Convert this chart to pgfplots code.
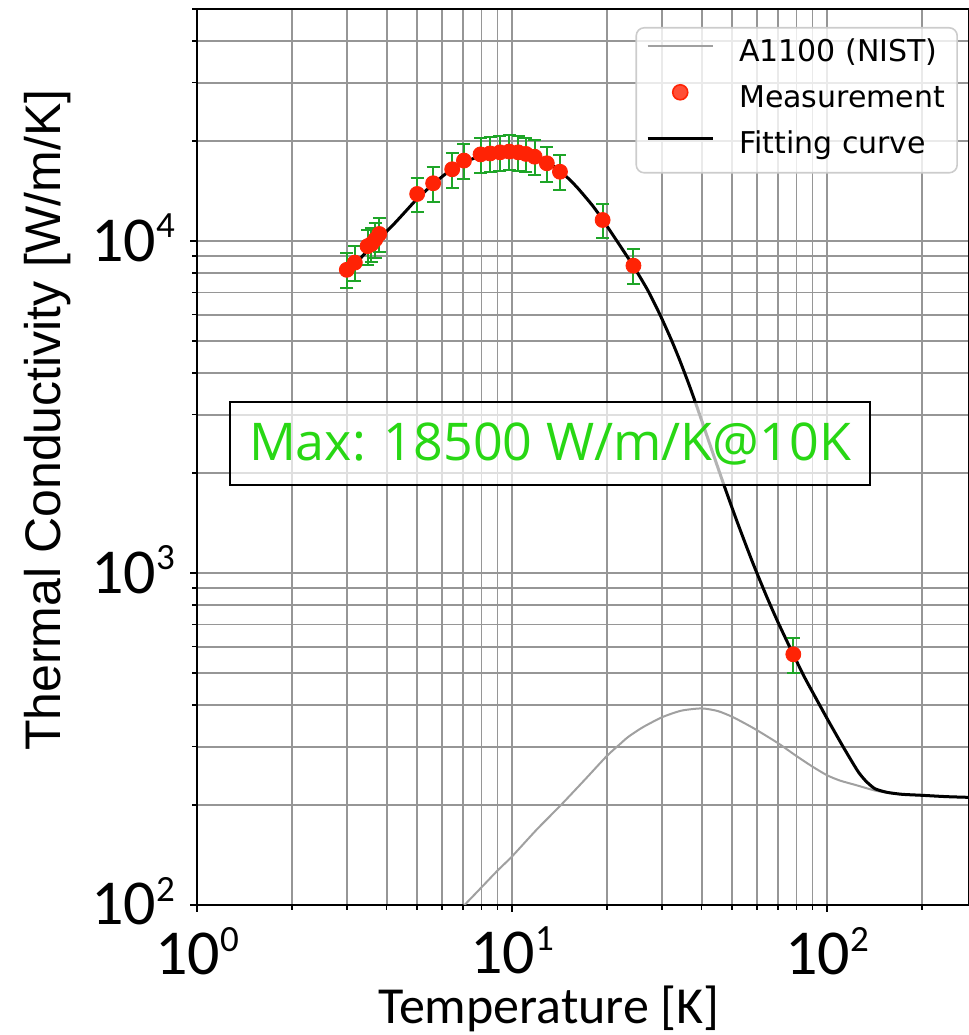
\documentclass[border=0pt]{standalone}
\usepackage{pgfplots}
\pgfplotsset{compat=1.18}
\usepackage{pgfplotstable}
\usetikzlibrary{calc}
\usepackage{fontspec}
\setmainfont{Liberation Sans}
\newfontfamily\carlito{Carlito}
\newfontfamily\opensans{Open Sans}
\newfontfamily\dejavu{DejaVu Sans}

\definecolor{nistgray}{RGB}{160,160,160}
\definecolor{measred}{RGB}{255,35,5}
\definecolor{errgreen}{RGB}{30,165,40}
\definecolor{anngreen}{RGB}{40,215,20}
\definecolor{gridgray}{RGB}{150,150,150}

\newcommand\tpow[1]{10\raisebox{0.36em}{\fontsize{18.5}{18.5}\selectfont #1}}

\pgfplotstableread{
T k
6.5 92
7.14 101
8 113
9 127
10 140
12 169
14.3 200
17 238
20 281
22 305
23.4 321
26 343
30 368
34.5 385
40 391
45 384
50 369
55 352
60 336
70 307
80 281
90 261
100 246
110 237
123 230
142.6 221
160 217
173 215.5
200 214
240 212
282 211
}\nist

\pgfplotstableread{
T k e
2.99 8190 0.12
3.17 8610 0.12
3.48 9650 0.12
3.58 9800 0.12
3.68 10100 0.12
3.79 10500 0.12
5.0 13860 0.12
5.62 14930 0.12
6.46 16450 0.12
7.04 17470 0.12
7.95 18240 0.12
8.52 18360 0.12
9.16 18500 0.12
9.8 18600 0.12
10.47 18500 0.12
11.07 18300 0.12
11.8 17950 0.12
12.9 17150 0.12
14.2 16170 0.12
19.4 11570 0.12
24.3 8430 0.12
78.2 569 0.12
}\meas

\pgfplotstableread{
T k
2.95 7950
3.0 8100
3.2 8600
3.5 9400
3.8 10200
4.2 11200
4.6 12300
5.0 13400
5.6 14800
6.3 16200
7.0 17200
8.0 18100
9.0 18500
10.0 18600
11.0 18400
12.0 17900
13.0 17200
14.2 16300
16.0 14600
18.0 12800
19.4 11600
22.0 9700
24.3 8400
27.0 7100
29.5 6000
32.0 5060
34.1 4370
36.5 3690
38.6 3180
42.0 2520
46.9 1861
51.7 1438
58.0 1079
64.4 848
70.0 709
78.0 571
85.0 484
92.7 416
100 365
106 331
112 302
119 274
126 251
133 236
142 224
155 218.5
173 215.5
200 214
240 212
282 211
}\fit

\begin{document}
\begin{tikzpicture}
\begin{axis}[
  name=ax,
  xmode=log, ymode=log,
  scale only axis,
  width=386pt, height=448pt,
  xmin=1, xmax=282.4,
  ymin=100, ymax=50000,
  xtick={1,10,100},
  xticklabels={\tpow{0},\tpow{1},\tpow{2}},
  ytick={100,1000,10000},
  yticklabels={\tpow{2},\tpow{3},\tpow{4}},
  minor xtick={2,3,4,5,6,7,8,9,20,30,40,50,60,70,80,90,200},
  minor ytick={200,300,400,500,600,700,800,900,2000,3000,4000,5000,6000,7000,8000,9000,20000,30000,40000,50000},
  tick pos=left,
  tick align=outside,
  major tick length=3.5pt,
  minor tick length=2.5pt,
  every tick/.style={black, line width=0.8pt},
  grid=both,
  major grid style={gridgray, line width=0.9pt},
  minor grid style={gridgray, line width=0.9pt},
  axis line style={black, line width=1pt},
  xticklabel style={font=\carlito\fontsize{32}{32}\selectfont, yshift=-4pt},
  yticklabel style={font=\carlito\fontsize{32}{32}\selectfont, anchor=base east, yshift=-10pt, xshift=-4pt},
  xlabel={Temperature [K]},
  ylabel={Thermal Conductivity [W/m/K]},
  xlabel style={font=\carlito\fontsize{26}{26}\selectfont, at={(axis description cs:0.456,-0.1325)}, anchor=base},
  ylabel style={font=\fontsize{25}{25}\selectfont, at={(axis description cs:-0.193,0.541)}, anchor=center, rotate=0},
  legend cell align=left,
  legend style={at={(1,1)}, anchor=north east, xshift=-5.5pt, yshift=-9pt,
    draw=black!20, line width=0.8pt, rounded corners=4pt,
    fill=white, fill opacity=0.8, text opacity=1,
    font=\dejavu\fontsize{15}{18}\selectfont,
    inner xsep=5pt, inner ysep=5pt, row sep=6.5pt,
    nodes={text height=11pt, text depth=3.5pt, inner sep=1pt},
    /tikz/every odd column/.append style={column sep=11.5pt}},
]
\addlegendimage{legend image code/.code={\path[draw=none,fill=none] (0pt,0pt) -- (32.5pt,0pt); \draw[nistgray, line width=1pt] (0pt,4pt) -- (32.5pt,4pt);}}
\addlegendentry{A1100 (NIST)}
\addlegendimage{legend image code/.code={\path[draw=none,fill=none] (0pt,0pt) -- (32.5pt,0pt); \fill[measred] (16.25pt,4pt) circle (3.75pt);}}
\addlegendentry{Measurement}
\addlegendimage{legend image code/.code={\path[draw=none,fill=none] (0pt,0pt) -- (32.5pt,0pt); \draw[black, line width=1.5pt] (0pt,4pt) -- (32.5pt,4pt);}}
\addlegendentry{Fitting curve}

\addplot[nistgray, line width=1pt, smooth, tension=0.4, forget plot] table[x=T, y=k] {\nist};
\addplot[black, line width=1.5pt, smooth, tension=0.4, forget plot] table[x=T, y=k] {\fit};
\addplot[only marks, mark=none, forget plot,
  error bars/.cd, y dir=both, y explicit relative,
  error bar style={errgreen, line width=1pt},
  error mark options={errgreen, rotate=90, mark size=3.25pt, line width=1pt}]
  table[x=T, y=k, y error=e] {\meas};
\addplot[only marks, mark=*, mark size=3.75pt, mark options={fill=measred, draw=measred}, forget plot]
  table[x=T, y=k] {\meas};

\node[draw=black, line width=1pt, fill=white, fill opacity=0.7, text opacity=1,
  minimum width=320pt, minimum height=41.5pt, inner sep=0pt,
  font=\opensans\fontsize{26}{26}\selectfont, text=anngreen]
  at (axis cs:13.2,2455) {Max: 18500 W/m/K@10K};
\end{axis}
\pgfresetboundingbox
\path[use as bounding box] ($(ax.south west)+(-98.5pt,-65pt)$) rectangle ($(ax.north east)+(0pt,4.5pt)$);
\end{tikzpicture}
\end{document}
